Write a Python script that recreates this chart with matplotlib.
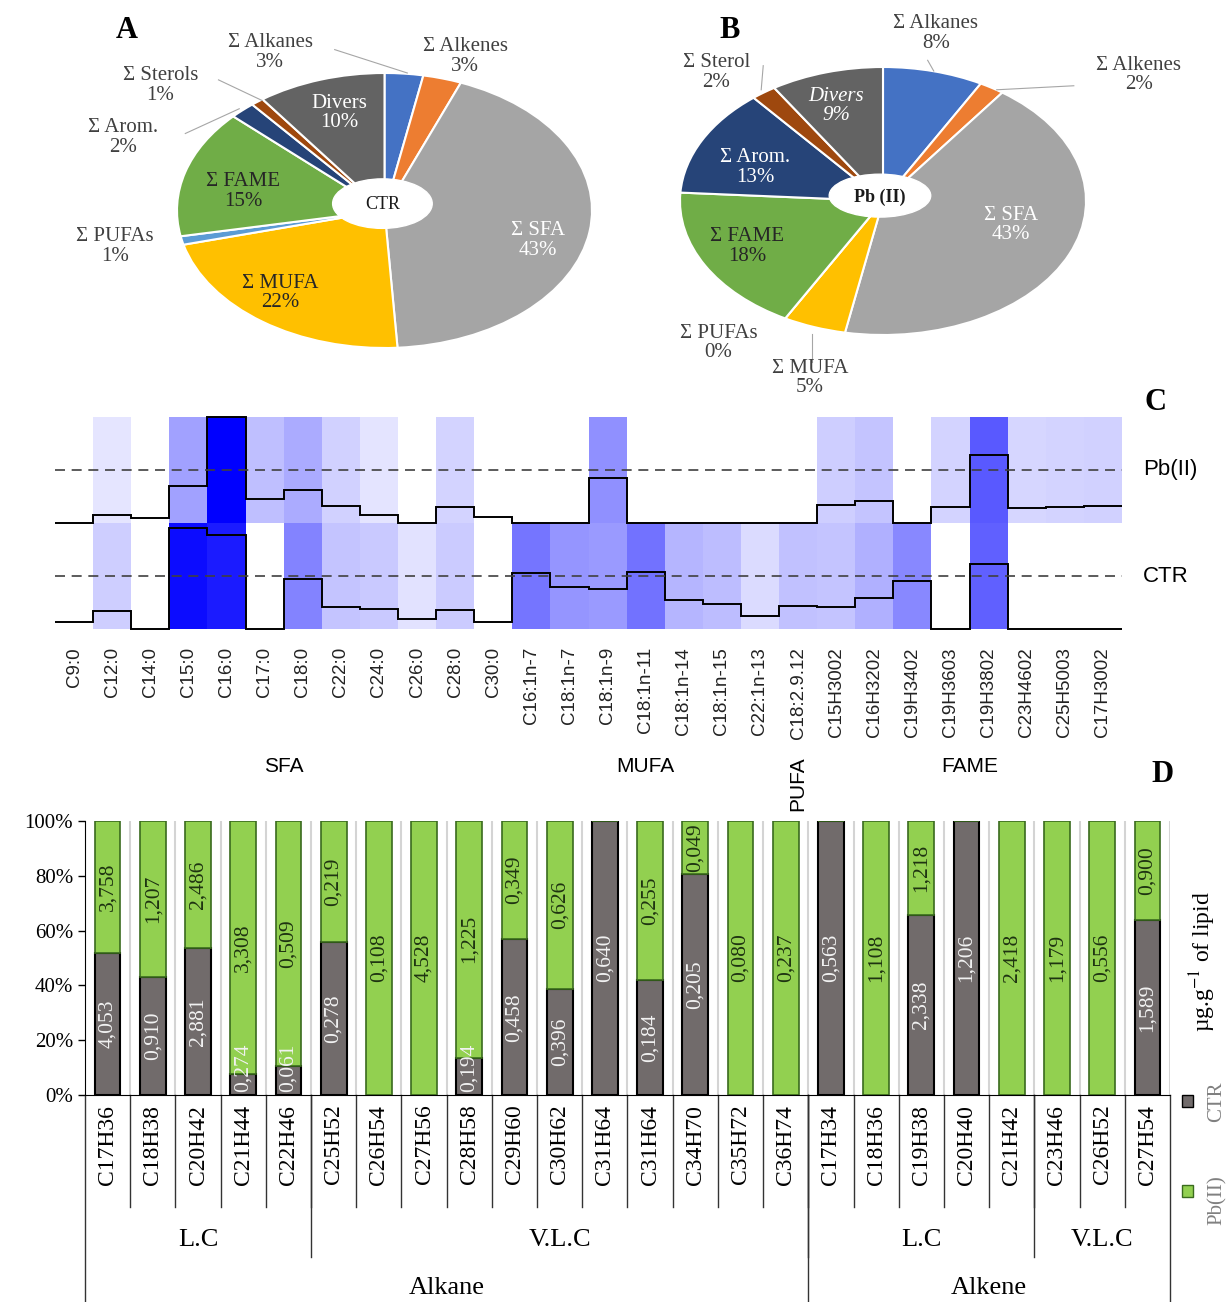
import numpy as np
import matplotlib.pyplot as plt
from matplotlib.colors import LinearSegmentedColormap
from matplotlib.patches import Ellipse, Rectangle

plt.rcParams['font.family'] = ['Liberation Serif', 'DejaVu Serif']
plt.rcParams['mathtext.fontset'] = 'stix'

# ---- data -------------------------------------------------------------
pie_names_a = ['Σ Alkanes', 'Σ Alkenes', 'Σ SFA', 'Σ MUFA', 'Σ PUFAs',
               'Σ FAME', 'Σ Arom.', 'Σ Sterols', 'Divers']
pie_values_a = [3, 3, 43, 22, 1, 15, 2, 1, 10]
pie_names_b = ['Σ Alkanes', 'Σ Alkenes', 'Σ SFA', 'Σ MUFA', 'Σ PUFAs',
               'Σ FAME', 'Σ Arom.', 'Σ Sterol', 'Divers']
pie_values_b = [8, 2, 43, 5, 0, 18, 13, 2, 9]
pie_colors = ['#4472C4', '#ED7D31', '#A5A5A5', '#FFC000', '#5B9BD5',
              '#70AD47', '#264478', '#9E480E', '#636363']

fa_names = ['C9:0', 'C12:0', 'C14:0', 'C15:0', 'C16:0', 'C17:0', 'C18:0',
            'C22:0', 'C24:0', 'C26:0', 'C28:0', 'C30:0',
            'C16:1n-7', 'C18:1n-7', 'C18:1n-9', 'C18:1n-11', 'C18:1n-14',
            'C18:1n-15', 'C22:1n-13', 'C18:2.9.12',
            'C15H3002', 'C16H3202', 'C19H3402', 'C19H3603', 'C19H3802',
            'C23H4602', 'C25H5003', 'C17H3002']
fa_groups = [('SFA', 12), ('MUFA', 7), ('PUFA', 1), ('FAME', 8)]
fa_ctr = [0.07, 0.17, 0.0, 0.95, 0.89, 0.0, 0.47, 0.21, 0.19, 0.09, 0.18, 0.07,
          0.53, 0.40, 0.38, 0.54, 0.27, 0.24, 0.12, 0.22,
          0.21, 0.29, 0.45, 0.0, 0.61, 0.0, 0.0, 0.0]
fa_pb = [0.0, 0.075, 0.05, 0.35, 1.0, 0.23, 0.31, 0.16, 0.08, 0.0, 0.15, 0.06,
         0.0, 0.0, 0.42, 0.0, 0.0, 0.0, 0.0, 0.0,
         0.17, 0.21, 0.0, 0.15, 0.64, 0.14, 0.15, 0.16]

hc_names = ['C17H36', 'C18H38', 'C20H42', 'C21H44', 'C22H46', 'C25H52',
            'C26H54', 'C27H56', 'C28H58', 'C29H60', 'C30H62', 'C31H64',
            'C31H64', 'C34H70', 'C35H72', 'C36H74', 'C17H34', 'C18H36',
            'C19H38', 'C20H40', 'C21H42', 'C23H46', 'C26H52', 'C27H54']
hc_ctr = [4.053, 0.910, 2.881, 0.274, 0.061, 0.278, 0, 0, 0.194, 0.458, 0.396,
          0.640, 0.184, 0.205, 0, 0, 0.563, 0, 2.338, 1.206, 0, 0, 0, 1.589]
hc_pb = [3.758, 1.207, 2.486, 3.308, 0.509, 0.219, 0.108, 4.528, 1.225, 0.349,
         0.626, 0, 0.255, 0.049, 0.080, 0.237, 0, 1.108, 1.218, 0, 2.418,
         1.179, 0.556, 0.900]
hc_chain = [('L.C', 5), ('V.L.C', 11), ('L.C', 5), ('V.L.C', 3)]
hc_family = [('Alkane', 16), ('Alkene', 8)]

# ---- figure -----------------------------------------------------------
W, H = 1228, 1302
fig = plt.figure(figsize=(W / 100, H / 100), dpi=100)


def px_rect(x0, y0, x1, y1):
    return [x0 / W, 1 - y1 / H, (x1 - x0) / W, (y1 - y0) / H]


def fx(x):
    return x / W


def fy(y):
    return 1 - y / H


def pie_panel(rect, names, values, label_xy, text_colors, leaders, hole,
              center_text, center_weight, italic_last):
    ax = fig.add_axes(rect)
    ax.pie(values, colors=pie_colors, startangle=90, counterclock=False,
           wedgeprops=dict(edgecolor='white', linewidth=1.5))
    ax.set_aspect('auto')
    ax.set_xlim(-1, 1)
    ax.set_ylim(-1, 1)
    ax.add_patch(Ellipse(hole[:2], hole[2], hole[3], color='white', zorder=5))
    ax.text(hole[0], hole[1] - 0.01, center_text, ha='center', va='center',
            fontsize=13, weight=center_weight, color='#1a1a1a', zorder=6)
    for i, (name, val) in enumerate(zip(names, values)):
        style = 'italic' if (italic_last and name == 'Divers') else 'normal'
        ax.text(label_xy[i][0], label_xy[i][1], f'{name}\n{val}%',
                ha='center', va='center', fontsize=15, color=text_colors[i],
                linespacing=1.05, style=style, zorder=6)
    for (x0, y0), (x1, y1) in leaders:
        ax.plot([x0, x1], [y0, y1], color='#a6a6a6', lw=0.8, clip_on=False)
    return ax


pie_panel(px_rect(177, 73, 592, 348), pie_names_a, pie_values_a,
          [(-0.55, 1.15), (0.39, 1.12), (0.74, -0.22), (-0.5, -0.6),
           (-1.3, -0.26), (-0.68, 0.14), (-1.26, 0.53), (-1.08, 0.91),
           (-0.22, 0.71)],
          ['#404040', '#404040', 'white', '#262626', '#404040', '#262626',
           '#404040', '#404040', 'white'],
          [((-0.24, 1.17), (0.11, 1.0)), ((-0.80, 0.95), (-0.59, 0.80)),
           ((-0.96, 0.56), (-0.70, 0.74))],
          (-0.01, 0.05, 0.48, 0.36), 'CTR', 'normal', False)

pie_panel(px_rect(680, 67, 1086, 335), pie_names_b, pie_values_b,
          [(0.26, 1.25), (1.26, 0.94), (0.63, -0.18), (-0.36, -1.32),
           (-0.81, -1.06), (-0.67, -0.34), (-0.63, 0.25), (-0.82, 0.96),
           (-0.23, 0.71)],
          ['#404040', '#404040', 'white', '#404040', '#404040', '#262626',
           'white', '#404040', 'white'],
          [((0.22, 1.05), (0.25, 0.97)), ((0.94, 0.86), (0.56, 0.83)),
           ((-0.59, 1.01), (-0.6, 0.83)), ((-0.35, -1.2), (-0.35, -0.99))],
          (-0.015, 0.04, 0.5, 0.32), 'Pb (II)', 'bold', True)

fig.text(fx(127), fy(30), 'A', fontsize=22, weight='bold', ha='center', va='center')
fig.text(fx(730), fy(30), 'B', fontsize=22, weight='bold', ha='center', va='center')
fig.text(fx(1155), fy(402), 'C', fontsize=22, weight='bold', ha='center', va='center')
fig.text(fx(1163), fy(775), 'D', fontsize=22, weight='bold', ha='center', va='center')

# ---- panel C: heatmap with trace ------------------------------------
sans = ['Liberation Sans', 'DejaVu Sans']
axc = fig.add_axes(px_rect(55, 417, 1122, 629))
n_fa = len(fa_names)
edges = np.arange(n_fa + 1)
# small values stay white, then a light tint ramps up to pure blue
cmap = LinearSegmentedColormap.from_list(
    'wb', [(0, '#ffffff'), (0.072, '#ffffff'), (0.0721, '#e6e6ff'),
           (1, '#0000ff')])
axc.pcolormesh(edges, [0, 1, 2], np.vstack([fa_ctr, fa_pb]), cmap=cmap,
               vmin=0, vmax=1)
axc.axhline(0.5, color='#404040', lw=1.2, dashes=(6, 4))
axc.axhline(1.5, color='#404040', lw=1.2, dashes=(6, 4))
axc.stairs(np.array(fa_ctr), edges, baseline=None, color='black', lw=1.4,
           clip_on=False)
axc.stairs(np.array(fa_pb) + 1, edges, baseline=None, color='black', lw=1.4,
           clip_on=False)
axc.set_xlim(0, n_fa)
axc.set_ylim(0, 2)
for s in axc.spines.values():
    s.set_visible(False)
axc.set_yticks([])
axc.set_xticks(edges[:-1] + 0.5)
axc.set_xticklabels(fa_names, rotation=90, fontsize=13.5, family=sans,
                    color='#222222')
axc.tick_params(axis='x', length=0, pad=13)
axc.text(n_fa + 0.55, 1.5, 'Pb(II)', fontsize=16, family=sans, va='center')
axc.text(n_fa + 0.55, 0.5, 'CTR', fontsize=16, family=sans, va='center')
start = 0
for name, cnt in fa_groups:
    rot = 90 if cnt == 1 else 0
    axc.text(start + cnt / 2, -0.73 if rot else -0.65, name, fontsize=15,
             family=sans, ha='center', va='center', rotation=rot,
             transform=axc.get_xaxis_transform())
    start += cnt

# ---- panel D: 100% stacked bars -------------------------------------
axd = fig.add_axes(px_rect(85, 821, 1170, 1095))
ctr = np.array(hc_ctr)
pb = np.array(hc_pb)
tot = ctr + pb
ctr_f = ctr / tot
pb_f = pb / tot
xs = np.arange(len(hc_names))
axd.vlines(xs + 0.5, 0, 1, colors='#d4d4d4', lw=1.5, zorder=0)
axd.bar(xs, ctr_f, width=0.57, color='#716b6b', edgecolor='black', lw=1.5,
        zorder=2)
axd.bar(xs, pb_f, bottom=ctr_f, width=0.57, color='#92d050',
        edgecolor='#3a6b1e', lw=1.2, zorder=2)
for i in xs:
    if ctr[i] > 0:
        y = max(ctr_f[i] / 2, 0.10)
        axd.text(i, y, f'{ctr[i]:.3f}'.replace('.', ','), rotation=90,
                 ha='center', va='center', fontsize=15.5, color='#f2f2f2',
                 zorder=3)
    if pb[i] > 0:
        y = min(ctr_f[i] + pb_f[i] / 2, 0.915)
        axd.text(i, y, f'{pb[i]:.3f}'.replace('.', ','), rotation=90,
                 ha='center', va='center', fontsize=15.5, color='#1e3311',
                 zorder=3)
axd.set_xlim(-0.5, len(hc_names) - 0.5)
axd.set_ylim(0, 1)
axd.set_yticks(np.linspace(0, 1, 6))
axd.set_yticklabels([f'{v}%' for v in range(0, 101, 20)], fontsize=15)
axd.spines['top'].set_visible(False)
axd.spines['right'].set_visible(False)
axd.tick_params(axis='y', length=5, width=1)
axd.set_xticks(xs)
axd.set_xticklabels(hc_names, rotation=90, fontsize=17)
axd.tick_params(axis='x', length=0, pad=7)

tr = axd.get_xaxis_transform()
for b in xs[:-1] + 0.5:
    axd.plot([b, b], [0, -0.41], color='#333333', lw=1, transform=tr,
             clip_on=False)
start = 0
for name, cnt in hc_chain:
    axd.text(start + (cnt - 1) / 2, -0.53, name, fontsize=19, ha='center',
             va='center', transform=tr)
    start += cnt
    if start < len(hc_names):
        axd.plot([start - 0.5] * 2, [0, -0.59], color='#333333', lw=1,
                 transform=tr, clip_on=False)
start = 0
axd.plot([-0.5, -0.5], [0, -0.8], color='#333333', lw=1, transform=tr,
         clip_on=False)
for name, cnt in hc_family:
    axd.text(start + (cnt - 1) / 2, -0.705, name, fontsize=19, ha='center',
             va='center', transform=tr)
    start += cnt
    axd.plot([start - 0.5] * 2, [0, -0.8], color='#333333', lw=1,
             transform=tr, clip_on=False)

fig.text(fx(1203), fy(962), r'µg.g$^{-1}$ of lipid', rotation=90,
         fontsize=17, ha='center', va='center')
fig.add_artist(Rectangle((fx(1182), fy(1107)), 11 / W, 12 / H,
                         transform=fig.transFigure, facecolor='#716b6b',
                         edgecolor='black', lw=1))
fig.add_artist(Rectangle((fx(1182), fy(1197)), 11 / W, 12 / H,
                         transform=fig.transFigure, facecolor='#92d050',
                         edgecolor='#3a6b1e', lw=1))
fig.text(fx(1217), fy(1102), 'CTR', rotation=90, fontsize=15,
         color='#808080', ha='center', va='center')
fig.text(fx(1217), fy(1200), 'Pb(II)', rotation=90, fontsize=15,
         color='#808080', ha='center', va='center')

fig.savefig('out.png', dpi=100)
